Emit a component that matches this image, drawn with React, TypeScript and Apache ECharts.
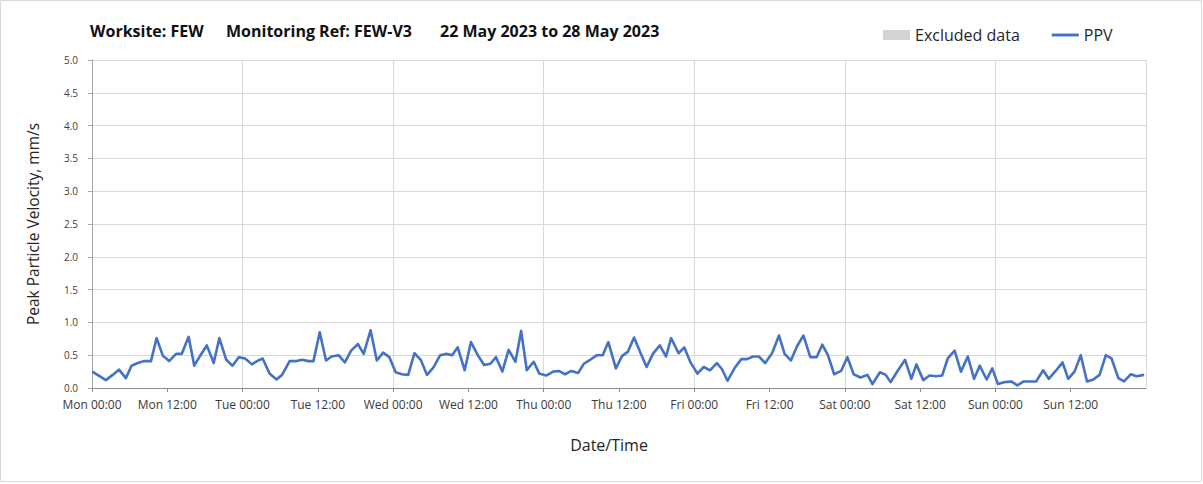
import React, { useEffect, useRef } from "react";
import * as echarts from "echarts";

// Monitoring period starts Monday 22 May 2023 00:00; x values are hours from that moment.
const periodHours = 168;
const tickLabels = [
  "Mon 00:00", "Mon 12:00", "Tue 00:00", "Tue 12:00", "Wed 00:00", "Wed 12:00",
  "Thu 00:00", "Thu 12:00", "Fri 00:00", "Fri 12:00", "Sat 00:00", "Sat 12:00",
  "Sun 00:00", "Sun 12:00", "Mon 00:00",
];
const yTicks = [0, 0.5, 1, 1.5, 2, 2.5, 3, 3.5, 4, 4.5, 5];

// PPV readings: [hours from start, mm/s]
const ppvReadings: [number, number][] = [
  [0.05, 0.25], [1.2, 0.18], [2.2, 0.12], [3.3, 0.2], [4.3, 0.28], [5.4, 0.15],
  [6.3, 0.34], [7.3, 0.38], [8.2, 0.41], [9.4, 0.41], [10.3, 0.76], [11.3, 0.49],
  [12.3, 0.41], [13.4, 0.52], [14.3, 0.52], [15.4, 0.78], [16.3, 0.34], [17.3, 0.5],
  [18.3, 0.65], [19.4, 0.38], [20.3, 0.76], [21.4, 0.43], [22.4, 0.34], [23.4, 0.47],
  [24.4, 0.45], [25.5, 0.36], [26.3, 0.41], [27.2, 0.45], [28.3, 0.22], [29.4, 0.13],
  [30.3, 0.2], [31.5, 0.41], [32.6, 0.41], [33.5, 0.43], [34.5, 0.41], [35.3, 0.41],
  [36.3, 0.85], [37.3, 0.42], [38.2, 0.48], [39.3, 0.5], [40.3, 0.39], [41.3, 0.57],
  [42.4, 0.67], [43.3, 0.52], [44.4, 0.88], [45.4, 0.42], [46.4, 0.54], [47.4, 0.47],
  [48.4, 0.24], [49.4, 0.21], [50.4, 0.2], [51.4, 0.53], [52.4, 0.43], [53.4, 0.2],
  [54.4, 0.31], [55.5, 0.5], [56.5, 0.52], [57.4, 0.5], [58.3, 0.62], [59.4, 0.27],
  [60.4, 0.7], [61.5, 0.5], [62.5, 0.35], [63.5, 0.37], [64.4, 0.47], [65.4, 0.25],
  [66.4, 0.58], [67.5, 0.4], [68.4, 0.87], [69.3, 0.27], [70.4, 0.4], [71.3, 0.22],
  [72.4, 0.19], [73.5, 0.25], [74.4, 0.26], [75.4, 0.21], [76.4, 0.26], [77.5, 0.23],
  [78.4, 0.37], [79.4, 0.43], [80.5, 0.5], [81.4, 0.5], [82.3, 0.7], [83.5, 0.3],
  [84.5, 0.49], [85.4, 0.55], [86.4, 0.77], [87.4, 0.54], [88.4, 0.32], [89.4, 0.52],
  [90.5, 0.65], [91.5, 0.48], [92.3, 0.76], [93.5, 0.53], [94.4, 0.62], [95.4, 0.39],
  [96.5, 0.22], [97.5, 0.32], [98.5, 0.27], [99.6, 0.38], [100.4, 0.29], [101.3, 0.11],
  [102.4, 0.3], [103.5, 0.44], [104.4, 0.44], [105.4, 0.48], [106.3, 0.48], [107.3, 0.38],
  [108.4, 0.53], [109.5, 0.8], [110.4, 0.52], [111.4, 0.42], [112.4, 0.64], [113.4, 0.8],
  [114.5, 0.47], [115.5, 0.47], [116.4, 0.66], [117.3, 0.5], [118.3, 0.21], [119.4, 0.26],
  [120.4, 0.47], [121.4, 0.21], [122.5, 0.16], [123.6, 0.2], [124.4, 0.06], [125.6, 0.24],
  [126.5, 0.2], [127.3, 0.09], [128.4, 0.26], [129.6, 0.43], [130.6, 0.14], [131.4, 0.36],
  [132.5, 0.12], [133.5, 0.19], [134.6, 0.18], [135.5, 0.19], [136.4, 0.45], [137.5, 0.57],
  [138.5, 0.25], [139.6, 0.48], [140.6, 0.14], [141.5, 0.34], [142.6, 0.13], [143.5, 0.3],
  [144.4, 0.06], [145.5, 0.09], [146.5, 0.1], [147.5, 0.04], [148.5, 0.1], [149.5, 0.1],
  [150.5, 0.1], [151.6, 0.27], [152.5, 0.14], [153.6, 0.26], [154.7, 0.39], [155.6, 0.14],
  [156.6, 0.25], [157.6, 0.5], [158.6, 0.1], [159.6, 0.13], [160.6, 0.2], [161.6, 0.5],
  [162.5, 0.45], [163.6, 0.15], [164.5, 0.1], [165.6, 0.21], [166.5, 0.18], [167.7, 0.2],
];

const FONT = "'Open Sans', 'DejaVu Sans', sans-serif";

export default function App() {
  const ref = useRef<HTMLDivElement>(null);

  useEffect(() => {
    if (!ref.current) return;
    const chart = echarts.init(ref.current, undefined, { renderer: "svg" });
    const titleStyle = {
      fontFamily: FONT,
      fontWeight: "bold" as const,
      fontSize: 16,
      color: "#111111",
    };
    chart.setOption({
      animation: false,
      backgroundColor: "#ffffff",
      title: [
        { text: "Worksite: FEW", left: 90, top: 23, padding: 0, textStyle: titleStyle },
        { text: "Monitoring Ref: FEW-V3", left: 226, top: 23, padding: 0, textStyle: titleStyle },
        { text: "22 May 2023 to 28 May 2023", left: 440, top: 23, padding: 0, textStyle: titleStyle },
      ],
      legend: {
        left: 883,
        top: 27,
        padding: 0,
        itemWidth: 27,
        itemHeight: 10,
        itemGap: 32,
        textStyle: { fontFamily: FONT, fontSize: 16, color: "#262626" },
        data: [
          { name: "Excluded data", icon: "rect", itemStyle: { color: "#d3d3d3" } },
          { name: "PPV", icon: "path://M0,0 L28,0 L28,3 L0,3 Z", itemStyle: { color: "#4472c4" } },
        ],
      },
      graphic: [
        {
          type: "rect",
          shape: { x: 0.5, y: 0.5, width: 1201, height: 481 },
          style: { fill: "none", stroke: "#d9d9d9", lineWidth: 1 },
          silent: true,
        },
      ],
      grid: { left: 92, right: 57, top: 60, bottom: 96, containLabel: false },
      xAxis: [
        {
          type: "value",
          min: 0,
          max: periodHours,
          interval: 12,
          name: "Date/Time",
          nameLocation: "middle",
          nameGap: 49,
          nameTextStyle: { fontFamily: FONT, fontSize: 16, color: "#262626", padding: [0, 20, 0, 0] },
          axisLine: { show: true, lineStyle: { color: "#8c8c8c", width: 1 } },
          axisTick: { show: true, length: 4, lineStyle: { color: "#8c8c8c" } },
          axisLabel: {
            showMaxLabel: false,
            margin: 10,
            fontFamily: FONT,
            fontSize: 12,
            color: "#3a3a3a",
            formatter: (v: number) => tickLabels[Math.round(v / 12)] ?? "",
          },
          splitLine: { show: false },
        },
        {
          type: "value",
          min: 0,
          max: periodHours,
          interval: 24,
          position: "top",
          axisLine: { show: false },
          axisTick: { show: false },
          axisLabel: { show: false },
          splitLine: { show: true, lineStyle: { color: "#d9d9d9", width: 1 } },
        },
      ],
      yAxis: {
        type: "value",
        min: yTicks[0],
        max: yTicks[yTicks.length - 1],
        interval: 0.5,
        name: "Peak Particle Velocity, mm/s",
        nameLocation: "middle",
        nameGap: 51,
        nameTextStyle: { fontFamily: FONT, fontSize: 15.5, color: "#262626" },
        axisLine: { show: true, lineStyle: { color: "#a6a6a6", width: 1 } },
        axisTick: { show: true, length: 4, lineStyle: { color: "#a6a6a6" } },
        axisLabel: {
          margin: 14,
          fontFamily: FONT,
          fontSize: 10,
          color: "#404040",
          formatter: (v: number) => v.toFixed(1),
        },
        splitLine: { show: true, lineStyle: { color: "#d9d9d9", width: 1 } },
      },
      series: [
        {
          name: "Excluded data",
          type: "bar",
          data: [],
          itemStyle: { color: "#d3d3d3" },
        },
        {
          name: "PPV",
          type: "line",
          xAxisIndex: 0,
          data: ppvReadings,
          symbol: "none",
          lineStyle: { color: "#4472c4", width: 2.6, join: "round" },
          itemStyle: { color: "#4472c4" },
        },
      ],
    });
    return () => chart.dispose();
  }, []);

  return (
    <div
      ref={ref}
      style={{ position: "absolute", left: 0, top: 0, width: 1203, height: 484 }}
    />
  );
}
